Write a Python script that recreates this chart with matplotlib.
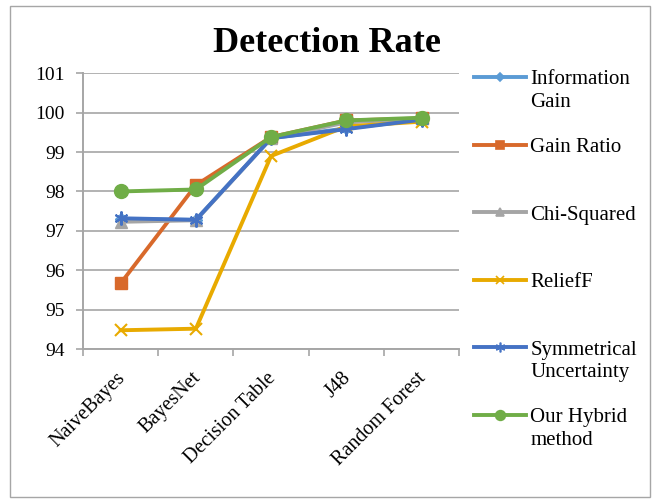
import matplotlib.pyplot as plt
from matplotlib.lines import Line2D
from matplotlib.patches import Rectangle
from matplotlib.transforms import ScaledTranslation

plt.rcParams['font.family'] = ['Liberation Serif', 'DejaVu Serif']

classifiers = ["NaiveBayes", "BayesNet", "Decision Table", "J48", "Random Forest"]

info_gain = [97.30, 97.28, 99.35, 99.60, 99.82]
gain_ratio = [95.67, 98.16, 99.38, 99.80, 99.85]
chi_squared = [97.23, 97.27, 99.35, 99.75, 99.85]
relieff = [94.48, 94.52, 98.90, 99.65, 99.77]
sym_uncert = [97.32, 97.28, 99.35, 99.58, 99.82]
hybrid = [98.00, 98.05, 99.38, 99.80, 99.87]

series = [
    ("Information\nGain", info_gain, "#5B9BD5", "D", 6),
    ("Gain Ratio", gain_ratio, "#D8692B", "s", 9),
    ("Chi-Squared", chi_squared, "#A5A5A5", "^", 8),
    ("ReliefF", relieff, "#E8AA00", "x", 9),
    ("Symmetrical\nUncertainty", sym_uncert, "#4472C4", (6, 2, 0), 10),
    ("Our Hybrid\nmethod", hybrid, "#70AD47", "o", 10),
]

fig = plt.figure(figsize=(6.54, 5.01), dpi=100)
ax = fig.add_axes([0.127, 0.303, 0.575, 0.551])

x = list(range(len(classifiers)))
for label, vals, color, marker, ms in series:
    thin = marker == "x" or isinstance(marker, tuple)
    ax.plot(x, vals, color=color, lw=2.8, marker=marker, markersize=ms,
            markeredgewidth=1.5 if thin else 1,
            markeredgecolor=color, markerfacecolor=color, label=label)

ax.set_xlim(-0.5, len(classifiers) - 0.5)
ax.set_ylim(94, 101)
ax.set_yticks(range(94, 102))
ax.yaxis.grid(True, color="#A6A6A6", lw=1.2)
ax.set_axisbelow(True)

ax.set_xticks(x)
ax.set_xticklabels(classifiers, rotation=45, ha="right", rotation_mode="anchor",
                   fontsize=14.5)
ax.set_xticks([i - 0.5 for i in range(len(classifiers) + 1)], minor=True)
ax.tick_params(axis="x", which="major", length=0, pad=14)
ax.tick_params(axis="x", which="minor", length=5, color="#A6A6A6", width=1.2)
ax.tick_params(axis="y", labelsize=14, length=5, color="#A6A6A6", width=1.2, pad=8)

# nudge the slanted category labels a little to the left
shift = ScaledTranslation(-0.05, 0, fig.dpi_scale_trans)
for lbl in ax.get_xticklabels():
    lbl.set_transform(lbl.get_transform() + shift)

for side in ("top", "right"):
    ax.spines[side].set_visible(False)
for side in ("left", "bottom"):
    ax.spines[side].set_color("#A6A6A6")
    ax.spines[side].set_linewidth(1.4)

fig.text(0.5, 1 - 52 / 501, "Detection Rate", ha="center", va="baseline",
         fontsize=26, fontweight="bold")

# legend, laid out like Excel's right-hand legend
for i, (label, vals, color, marker, ms) in enumerate(series):
    y = 1 - (77 + i * 67.6) / 501
    fig.add_artist(Line2D([0.725, 0.805], [y, y], color=color, lw=2.8,
                          transform=fig.transFigure))
    fig.add_artist(Line2D([0.765], [y], color=color, marker=marker,
                          markersize=ms * 0.7, markeredgewidth=1.2,
                          transform=fig.transFigure))
    fig.text(0.811, y + 0.013, label, ha="left", va="top", fontsize=15,
             linespacing=1.25)

fig.add_artist(Rectangle((0.016, 0.008), 0.978, 0.98, fill=False,
                         edgecolor="#A6A6A6", lw=1.0, transform=fig.transFigure))

fig.savefig("out.png", dpi=100)
